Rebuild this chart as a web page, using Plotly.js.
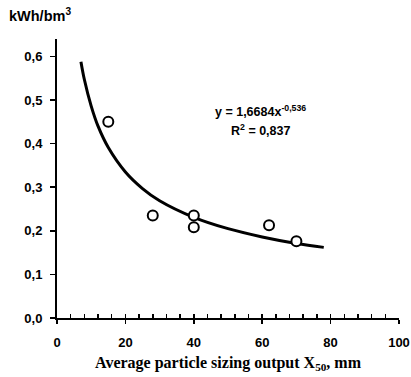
<!DOCTYPE html>
<html>
<head>
<meta charset="utf-8">
<script src="https://cdn.plot.ly/plotly-3.0.1.min.js"></script>
<style>html,body{margin:0;padding:0;background:#fff}#chart{width:411px;height:377px}</style>
</head>
<body>
<div id="chart"></div>
<script>
// Measured points
const sizeX50 = [15, 28, 40, 40, 62, 70];
const energy = [0.45, 0.235, 0.235, 0.208, 0.213, 0.176];
// Power trendline as drawn
const trendX = [7, 8, 10, 12, 15, 20, 25, 30, 40, 50, 60, 70, 78];
const trendY = [0.588, 0.547, 0.486, 0.440, 0.391, 0.335, 0.297, 0.269, 0.231, 0.205, 0.186, 0.171, 0.162];
const xTicks = [0, 20, 40, 60, 80, 100];
const yTicks = [0, 0.1, 0.2, 0.3, 0.4, 0.5, 0.6];

function tf() { return {family: 'Liberation Sans, Arial, sans-serif', size: 13, color: '#000', weight: 'bold'}; }

const data = [
  {x: trendX, y: trendY, mode: 'lines', line: {color: '#000', width: 3, shape: 'spline'}, hoverinfo: 'skip', showlegend: false},
  {x: sizeX50, y: energy, mode: 'markers', marker: {symbol: 'circle', size: 10, color: '#fff', line: {color: '#000', width: 2}}, showlegend: false},
  {x: [0, 100], y: [-1, -1], xaxis: 'x2', yaxis: 'y', mode: 'markers', marker: {opacity: 0}, showlegend: false, hoverinfo: 'skip'}
];

const layout = {
  width: 411, height: 377,
  margin: {l: 57, r: 12, t: 39, b: 59},
  paper_bgcolor: '#fff', plot_bgcolor: '#fff',
  separators: ', ',
  xaxis: {
    range: [0, 100], tickmode: 'array', tickvals: xTicks,
    ticks: 'outside', ticklen: 4, tickwidth: 1.5, tickcolor: '#000',
    showline: true, linecolor: '#000', linewidth: 2, showgrid: false, zeroline: false,
    tickfont: tf(), ticklabelstandoff: 7,
    title: {text: 'Average particle sizing output X<sub>50</sub>, mm', font: {family: 'Liberation Serif, Times New Roman, serif', size: 16, color: '#000', weight: 'bold'}, standoff: 8}
  },
  xaxis2: {
    overlaying: 'x', anchor: 'y', side: 'bottom', range: [0, 100], dtick: 4, tick0: 0,
    ticks: 'inside', ticklen: 4, tickwidth: 1.5, tickcolor: '#000',
    showticklabels: false, showgrid: false, zeroline: false, showline: false
  },
  yaxis: {
    range: [0, 0.64], tickmode: 'array', tickvals: yTicks, tickformat: '.1f',
    ticks: 'outside', ticklen: 5, tickwidth: 1.5, tickcolor: '#000',
    showline: true, linecolor: '#000', linewidth: 2, showgrid: false, zeroline: false,
    tickfont: tf(), ticklabelstandoff: 5
  },
  annotations: [
    {xref: 'paper', yref: 'paper', x: -0.145, y: 1.085, xanchor: 'left', yanchor: 'middle', showarrow: false,
     text: 'kWh/bm<sup>3</sup>', font: {family: 'Liberation Sans, Arial, sans-serif', size: 14.5, color: '#000', weight: 'bold'}},
    {xref: 'x', yref: 'y', x: 59.4, y: 0.474, xanchor: 'center', yanchor: 'middle', showarrow: false,
     text: 'y = 1,6684x<sup>-0,536</sup>', font: {family: 'Liberation Sans, Arial, sans-serif', size: 12.5, color: '#000', weight: 'bold'}},
    {xref: 'x', yref: 'y', x: 59.4, y: 0.431, xanchor: 'center', yanchor: 'middle', showarrow: false,
     text: 'R<sup>2</sup> = 0,837', font: {family: 'Liberation Sans, Arial, sans-serif', size: 12.5, color: '#000', weight: 'bold'}}
  ]
};

Plotly.newPlot('chart', data, layout, {displayModeBar: false, staticPlot: true});
</script>
</body>
</html>
